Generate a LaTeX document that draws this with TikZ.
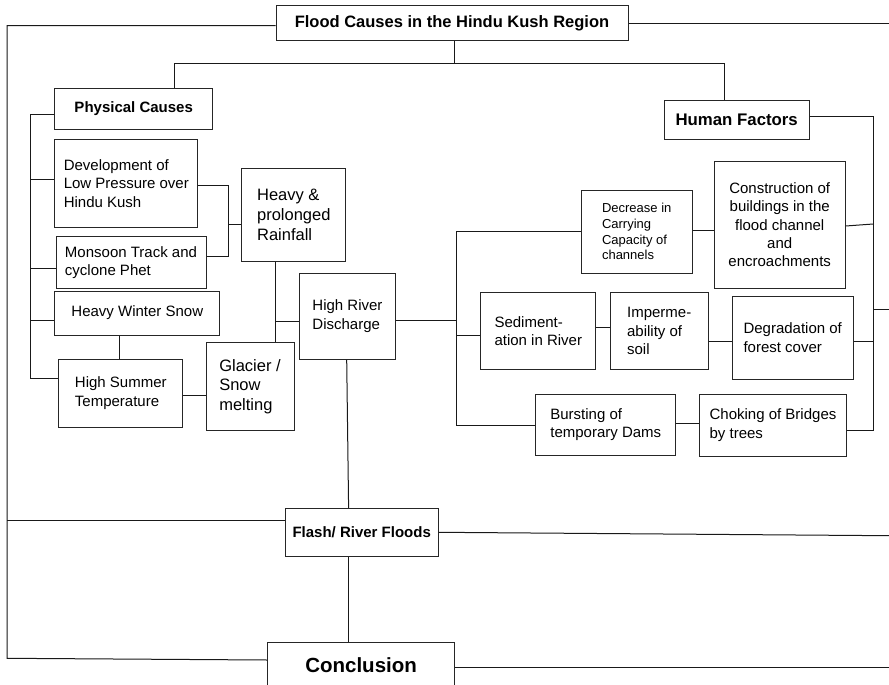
\documentclass[tikz,border=0pt]{standalone}
\usepackage{fontspec}
\setmainfont{Liberation Sans}
\begin{document}
\begin{tikzpicture}[x=1pt,y=-1pt,
  box/.style={draw=black!85, line width=1pt, inner sep=0pt, align=left, font=\fontsize{15}{18.5}\selectfont},
  boldbox/.style={box, align=center},
  bigtext/.style={font=\fontsize{16.5}{19.8}\selectfont},
  smalltext/.style={font=\fontsize{13}{15.7}\selectfont},
  wire/.style={draw=black!90, line width=1pt}]
\useasboundingbox (0,0) rectangle (889,685);
\clip (0,0) rectangle (889,685);
\fill[white] (0,0) rectangle (889,685);

% top level
\node[boldbox, minimum width=352pt, minimum height=35pt, font=\bfseries\fontsize{16.5}{20}\selectfont] (title) at (452,23.5) {Flood Causes in the Hindu Kush Region};
\node[boldbox, minimum width=158pt, minimum height=40.7pt, font=\bfseries\fontsize{15}{18}\selectfont] (phys) at (133.7,108.7) {Physical Causes};
\node[boldbox, minimum width=144.7pt, minimum height=39.3pt, font=\bfseries\fontsize{16.8}{20}\selectfont] (human) at (736.7,119.7) {Human Factors};

% physical causes
\node[box, minimum width=143.3pt, minimum height=88.4pt] (dev) at (126.3,183.5) {Development of\\Low Pressure over\\Hindu Kush};
\node[box, minimum width=150pt, minimum height=51.6pt] (mons) at (131,262.5) {Monsoon Track and\\cyclone Phet};
\node[box, minimum width=165.3pt, minimum height=44pt] (snow) at (137.3,313) {Heavy Winter Snow};
\node[box, minimum width=123.7pt, minimum height=68pt] (summer) at (120.8,393.3) {High Summer\\Temperature};
\node[box, bigtext, minimum width=88pt, minimum height=88pt] (glacier) at (250,386.7) {Glacier /\\Snow\\melting};
\node[box, bigtext, minimum width=104.3pt, minimum height=92.7pt] (rain) at (293.8,214.7) {Heavy \&\\prolonged\\Rainfall};
\node[box, minimum width=96.4pt, minimum height=86pt] (hrd) at (347.5,316.3) {High River\\Discharge};

% human factors
\node[box, smalltext, minimum width=111.3pt, minimum height=83.3pt] (decr) at (636.7,231.7) {Decrease in\\Carrying\\Capacity of\\channels};
\node[box, align=center, font=\fontsize{15}{18.2}\selectfont, minimum width=130.7pt, minimum height=127.3pt] (constr) at (779.7,224.7) {Construction of\\buildings in the\\flood channel\\and\\encroachments};
\node[box, minimum width=115.3pt, minimum height=77.3pt] (sed) at (538.3,331.3) {Sediment-\\ation in River};
\node[box, minimum width=98.3pt, minimum height=77.3pt] (imp) at (659.2,331.3) {Imperme-\\ability of\\soil};
\node[box, minimum width=121.3pt, minimum height=83pt] (degr) at (792.7,337.5) {Degradation of\\forest cover};
\node[box, minimum width=140.3pt, minimum height=61pt] (burst) at (605.8,424.5) {Bursting of\\temporary Dams};
\node[box, minimum width=147.4pt, minimum height=61.7pt] (choke) at (773,425.2) {Choking of Bridges\\by trees};

% outcomes
\node[boldbox, minimum width=153pt, minimum height=48.4pt, font=\bfseries\fontsize{15}{18}\selectfont] (flash) at (361.7,532.5) {Flash/ River Floods};
\node[boldbox, minimum width=187pt, minimum height=44pt, font=\bfseries\fontsize{20.5}{24}\selectfont] (concl) at (361.1,664.7) {Conclusion};

% junction coordinates
\coordinate (lx) at (7,0);
\coordinate (rx) at (889,0);
\coordinate (pj) at (174.3,63.3);
\coordinate (hj) at (724,63.3);
\coordinate (px) at (30.3,0);
\coordinate (dx) at (228.3,0);
\coordinate (gx) at (275,0);
\coordinate (sx) at (456,0);
\coordinate (hx) at (873.3,0);

% title links
\draw[wire] (title.west |- 0,25.7) -- (lx |- 0,25.7) -- (lx |- 0,658.3) -- (concl.west |- 0,660);
\draw[wire] (lx |- 0,520) -- (flash.west |- 0,520);
\draw[wire] (title.east |- 0,24) -- (rx |- 0,24);
\draw[wire] (title.south -| 454.7,0) -- (454.7,63.3);
\draw[wire] (pj |- phys.north) -- (pj) -- (hj) -- (hj |- human.north);

% physical causes spine
\draw[wire] (phys.west |- 0,114.3) -- (px |- 0,114.3) -- (px |- 0,378.7) -- (summer.west |- 0,378.7);
\draw[wire] (px |- 0,179.3) -- (dev.west |- 0,179.3);
\draw[wire] (px |- 0,268.3) -- (mons.west |- 0,268.3);
\draw[wire] (px |- 0,320) -- (snow.west |- 0,320);

\draw[wire] (dev.east |- 0,185) -- (dx |- 0,185) -- (dx |- 0,256.7) -- (mons.east |- 0,256.7);
\draw[wire] (dx |- 0,224.3) -- (rain.west |- 0,224.3);
\draw[wire] (snow.south -| 119.3,0) -- (summer.north -| 119.3,0);
\draw[wire] (summer.east |- 0,395) -- (glacier.west |- 0,395);
\draw[wire] (rain.south -| gx) -- (glacier.north -| gx);
\draw[wire] (gx |- 0,321.7) -- (hrd.west |- 0,321.7);

% outcomes
\draw[wire] (hrd.south -| 346.7,0) -- (flash.north -| 348.6,0);
\draw[wire] (flash.south -| 348.6,0) -- (concl.north -| 348.6,0);
\draw[wire] (flash.east |- 0,532.3) -- (rx |- 0,535.7);
\draw[wire] (concl.east |- 0,667.3) -- (rx |- 0,667.3);

% human factors spine
\draw[wire] (hrd.east |- 0,320) -- (sx |- 0,320);
\draw[wire] (decr.west |- 0,231.7) -- (sx |- 0,231.7) -- (sx |- 0,425.7) -- (burst.west |- 0,425.7);
\draw[wire] (sx |- 0,335.7) -- (sed.west |- 0,335.7);
\draw[wire] (decr.east |- 0,230.7) -- (constr.west |- 0,230.7);
\draw[wire] (sed.east |- 0,327.7) -- (imp.west |- 0,327.7);
\draw[wire] (imp.east |- 0,341.7) -- (degr.west |- 0,341.7);
\draw[wire] (burst.east |- 0,423.3) -- (choke.west |- 0,423.3);

\draw[wire] (human.east |- 0,116) -- (hx |- 0,116) -- (hx |- 0,430) -- (choke.east |- 0,430);
\draw[wire] (constr.east |- 0,226) -- (hx |- 0,224);
\draw[wire] (degr.east |- 0,341) -- (hx |- 0,341);
\draw[wire] (hx |- 0,309) -- (rx |- 0,309);
\end{tikzpicture}
\end{document}
